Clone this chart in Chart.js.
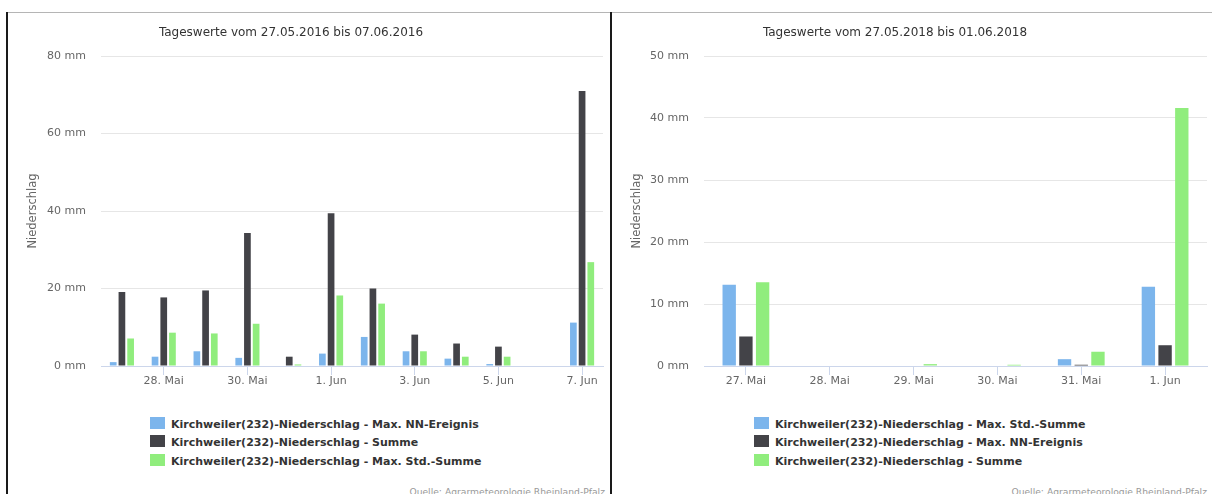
<!DOCTYPE html>
<html><head><meta charset="utf-8">
<script src="https://cdn.jsdelivr.net/npm/chart.js@4/dist/chart.umd.min.js"></script>
<style>
body{margin:0;width:1212px;height:494px;overflow:hidden;background:#fff;font-family:"DejaVu Sans",sans-serif;position:relative}
.frameTop{position:absolute;left:7px;top:12px;width:1205px;height:1px;background:#b5b5b5}
.vline{position:absolute;top:12px;height:482px;width:2px;background:#1a1a1a}
.wrap{position:absolute;top:0;height:400px}
.title{position:absolute;top:25px;font-size:12px;color:#333;white-space:nowrap;transform:translateX(-50%)}
.legend{position:absolute;top:416px;font-weight:bold;font-size:11px;color:#333}
.legend div{height:18.3px;line-height:18px;white-space:nowrap}
.legend span{display:inline-block;width:15px;height:12px;margin-right:6px;vertical-align:-1px}
.credit{position:absolute;top:486px;font-size:9.2px;color:#999;white-space:nowrap}
</style></head>
<body>
<div class="frameTop"></div>
<div class="vline" style="left:6px"></div>
<div class="vline" style="left:610px"></div>
<div class="wrap" style="left:0;width:610px"><canvas id="c1"></canvas></div>
<div class="wrap" style="left:612px;width:600px"><canvas id="c2"></canvas></div>
<div class="title" id="t1" style="left:291px"></div>
<div class="title" id="t2" style="left:895px"></div>
<div class="legend" id="l1" style="left:150px"></div>
<div class="legend" id="l2" style="left:754px"></div>
<div class="credit" style="right:607px">Quelle: Agrarmeteorologie Rheinland-Pfalz</div>
<div class="credit" style="right:5px">Quelle: Agrarmeteorologie Rheinland-Pfalz</div>
<script>
// ---- Data: left chart (2016) ----
const leftTitle = 'Tageswerte vom 27.05.2016 bis 07.06.2016';
const leftCategories = ['27. Mai','28. Mai','29. Mai','30. Mai','31. Mai','1. Jun','2. Jun','3. Jun','4. Jun','5. Jun','6. Jun','7. Jun'];
const leftLabels = ['Kirchweiler(232)-Niederschlag - Max. NN-Ereignis','Kirchweiler(232)-Niederschlag - Summe','Kirchweiler(232)-Niederschlag - Max. Std.-Summe'];
const leftNN    = [1.0, 2.4, 3.8, 2.1, 0,   3.2, 7.5, 3.8, 1.9, 0.5, 0, 11.2];
const leftSumme = [19.1,17.7,19.5,34.3,2.4, 39.4,20.0,8.1, 5.8, 5.0, 0, 71.0];
const leftStd   = [7.1, 8.6, 8.4, 10.9,0.4, 18.2,16.1,3.8, 2.4, 2.4, 0, 26.8];
const leftYMax = 80, leftYStep = 20;

// ---- Data: right chart (2018) ----
const rightTitle = 'Tageswerte vom 27.05.2018 bis 01.06.2018';
const rightCategories = ['27. Mai','28. Mai','29. Mai','30. Mai','31. Mai','1. Jun'];
const rightLabels = ['Kirchweiler(232)-Niederschlag - Max. Std.-Summe','Kirchweiler(232)-Niederschlag - Max. NN-Ereignis','Kirchweiler(232)-Niederschlag - Summe'];
const rightStd   = [13.1, 0, 0,   0,   1.1, 12.8];
const rightNN    = [4.76, 0, 0,   0,   0.2, 3.35];
const rightSumme = [13.5, 0, 0.3, 0.2, 2.3, 41.6];
const rightYMax = 50, rightYStep = 10;

const colors = ['#7cb5ec','#434348','#90ed7d'];
const axisTitle = 'Niederschlag';

function makeChart(id, cats, labels, series, yMax, yStep, yAxisW, padRight, titlePad, cp, bp, everyOther){
  return new Chart(document.getElementById(id), {
    type:'bar',
    data:{labels:cats, datasets:series.map((d,i)=>({label:labels[i], data:d, backgroundColor:colors[i], borderWidth:0, categoryPercentage:cp, barPercentage:bp}))},
    options:{
      responsive:true, maintainAspectRatio:false, animation:false,
      layout:{padding:{top:56,right:padRight,bottom:0,left:0}},
      plugins:{legend:{display:false}, tooltip:{enabled:false}},
      scales:{
        x:{
          grid:{display:true, drawOnChartArea:false, drawTicks:true, tickLength:9, offset:false,
                color:(ctx)=> (!everyOther || ctx.index%2===1) ? '#ccd6eb' : 'rgba(0,0,0,0)'},
          border:{display:true, color:'#ccd6eb', width:1},
          ticks:{autoSkip:false, maxRotation:0, padding:0, color:'#666', font:{family:'DejaVu Sans', size:11},
                 callback:function(v,i){ return (!everyOther || i%2===1) ? this.getLabelForValue(v) : ''; }},
          afterFit:(s)=>{ s.height = 34; }
        },
        y:{
          min:0, max:yMax,
          grid:{color:'#e6e6e6', drawTicks:false},
          border:{display:false},
          ticks:{stepSize:yStep, padding:15, color:'#666', font:{family:'DejaVu Sans', size:11}, callback:(v)=> v+' mm'},
          title:{display:true, text:axisTitle, color:'#666', font:{family:'DejaVu Sans', size:11.5}, padding:{top:titlePad,bottom:0}},
          afterFit:(s)=>{ s.width = yAxisW; }
        }
      }
    }
  });
}

makeChart('c1', leftCategories, leftLabels, [leftNN, leftSumme, leftStd], leftYMax, leftYStep, 101, 7, 26, 0.624, 0.77, true);
makeChart('c2', rightCategories, rightLabels, [rightStd, rightNN, rightSumme], rightYMax, rightYStep, 92, 5, 18, 0.598, 0.8, false);

document.getElementById('t1').textContent = leftTitle;
document.getElementById('t2').textContent = rightTitle;
function legend(id, labels){
  const el = document.getElementById(id);
  labels.forEach((t,i)=>{
    const row = document.createElement('div');
    const sw = document.createElement('span'); sw.style.background = colors[i];
    row.appendChild(sw); row.appendChild(document.createTextNode(t));
    el.appendChild(row);
  });
}
legend('l1', leftLabels);
legend('l2', rightLabels);
</script>
</body></html>
